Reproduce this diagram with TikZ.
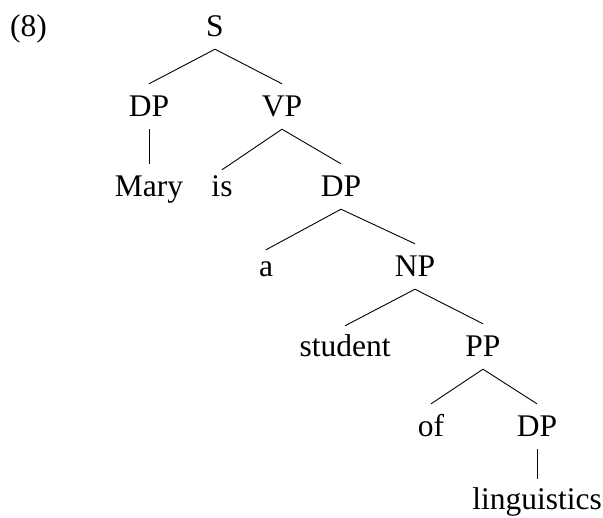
\documentclass[tikz,border=0pt]{standalone}
\usepackage{fontspec}
\setmainfont{Liberation Serif}
\begin{document}
\begin{tikzpicture}[x=1pt,y=-1pt,
  font=\fontsize{31.5}{36}\selectfont,
  lbl/.style={anchor=base,inner xsep=0pt,inner ysep=12pt,text height=21pt,text depth=0pt},
  low/.style={text height=15pt},
  edge/.style={draw=black,line width=0.9pt}]
\useasboundingbox (0,0) rectangle (603,518);
\node[lbl] (ex) at (28.5,37) {(8)};
\node[lbl] (S) at (215,37) {S};
\node[lbl] (DPa) at (149,117) {DP};
\node[lbl] (VP) at (282,117) {VP};
\node[lbl] (Mary) at (149,197) {Mary};
\node[lbl,low] (is) at (222,197) {is};
\node[lbl] (DPb) at (341,197) {DP};
\node[lbl,low] (a) at (266,277) {a};
\node[lbl] (NP) at (415,277) {NP};
\node[lbl,text height=19pt] (student) at (345,357) {student};
\node[lbl] (PP) at (483,357) {PP};
\node[lbl] (of) at (431,437) {of};
\node[lbl] (DPc) at (537,437) {DP};
\node[lbl,text height=19pt] (ling) at (537,510) {linguistics};
\draw[edge] (S.south) -- (DPa.north);
\draw[edge] (S.south) -- (VP.north);
\draw[edge] (DPa.south) -- (Mary.north);
\draw[edge] (VP.south) -- (is.north);
\draw[edge] (VP.south) -- (DPb.north);
\draw[edge] (DPb.south) -- (a.north);
\draw[edge] (DPb.south) -- (NP.north);
\draw[edge] (NP.south) -- (student.north);
\draw[edge] (NP.south) -- (PP.north);
\draw[edge] (PP.south) -- (of.north);
\draw[edge] (PP.south) -- (DPc.north);
\draw[edge] (DPc.south) -- (ling.north);
\end{tikzpicture}
\end{document}
